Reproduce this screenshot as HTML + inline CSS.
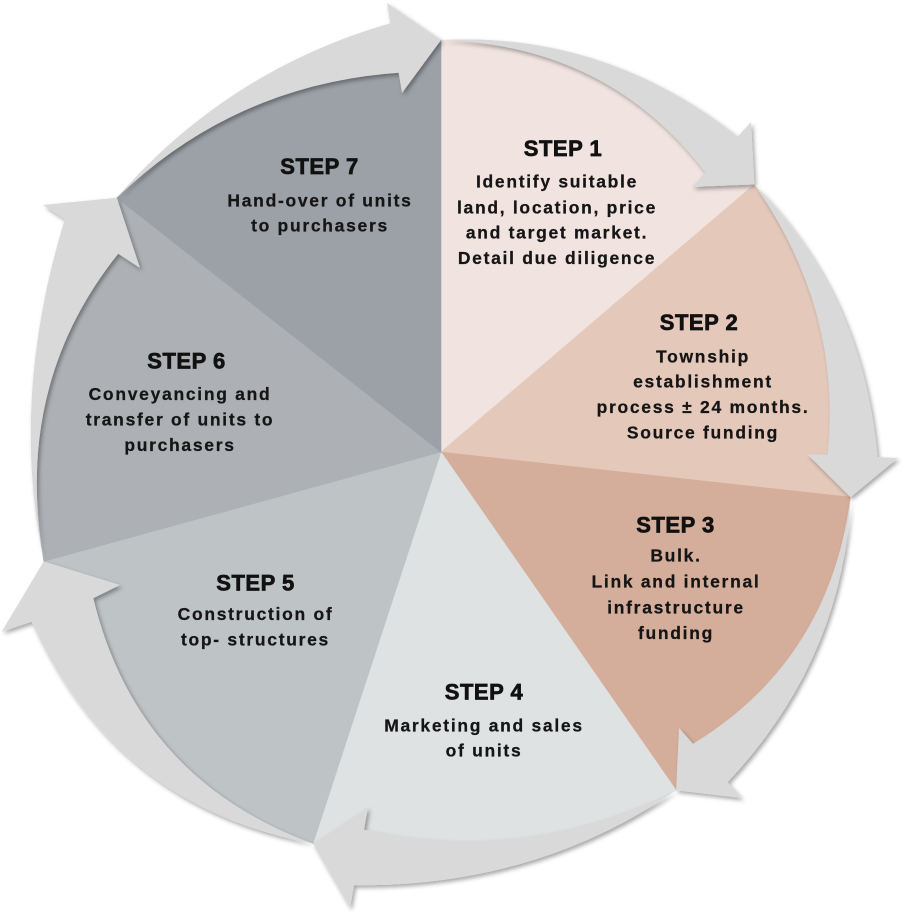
<!DOCTYPE html>
<html>
<head>
<meta charset="utf-8">
<style>
  html,body{margin:0;padding:0;background:#ffffff;}
  svg{display:block;}
  .h{font-family:"Liberation Sans",Arial,sans-serif;font-weight:bold;font-size:22px;letter-spacing:0.5px;fill:#111;stroke:#111;stroke-width:0.7px;}
  .b{font-family:"Liberation Sans",Arial,sans-serif;font-weight:bold;font-size:17.5px;letter-spacing:1.7px;fill:#151515;stroke:#151515;stroke-width:0.25px;}
</style>
</head>
<body>
<svg width="908" height="917" viewBox="0 0 908 917" xmlns="http://www.w3.org/2000/svg">
  <defs>
    <filter id="sh" x="-20%" y="-20%" width="140%" height="140%">
      <feDropShadow dx="2" dy="2.5" stdDeviation="2" flood-color="#000" flood-opacity="0.35"/>
    </filter>
  </defs>

  <!-- wedges -->
  <path d="M 441 452 L 441 40 Q 608.25 45.2 705.3 172.4 L 754.3 184.4 Z" fill="#f1e4e0" stroke="#f1e4e0" stroke-width="0.6"/>
  <path d="M 441 452 L 754.3 184.4 Q 842.9 310.75 827.5 454.9 L 850.5 497.2 Z" fill="#e4c9bb" stroke="#e4c9bb" stroke-width="0.6"/>
  <path d="M 441 452 L 850.5 497.2 Q 829.2 660.9 693.1 743.8 L 676.1 790.3 Z" fill="#d5ae9b" stroke="#d5ae9b" stroke-width="0.6"/>
  <path d="M 441 452 L 676.1 790.3 Q 521.75 865.6 364 829.7 L 313 843.6 Z" fill="#dfe2e3" stroke="#dfe2e3" stroke-width="0.6"/>
  <path d="M 441 452 L 313 843.6 Q 136.85 779.05 93.3 598.3 L 43.8 561.4 Z" fill="#bec3c6" stroke="#bec3c6" stroke-width="0.6"/>
  <path d="M 441 452 L 43.8 561.4 Q 12.8 385.6 118.2 253.8 L 116.8 197.8 Z" fill="#adb1b5" stroke="#adb1b5" stroke-width="0.6"/>
  <path d="M 441 452 L 116.8 197.8 Q 234.9 84.1 398.6 72.75 L 441 40 Z" fill="#9ba1a7" stroke="#9ba1a7" stroke-width="0.6"/>

  <!-- arrows -->
  <g fill="#d9d9d9" filter="url(#sh)">
    <path d="M 441 40 Q 608.25 45.2 705.3 172.4 L 692 187 L 754.3 184.4 L 751 122 L 737.7 136.6 Q 604.65 31.5 441 40 Z"/>
    <path d="M 754.3 184.4 Q 842.9 310.75 827.5 454.9 L 807 454 L 850.5 497.2 L 898 458 L 877.5 457.1 Q 862.9 293.25 754.3 184.4 Z"/>
    <path d="M 850.5 497.2 Q 829.2 660.9 693.1 743.8 L 679 728 L 676.1 790.3 L 741.7 798 L 727.6 782.3 Q 843.75 658.45 850.5 497.2 Z"/>
    <path d="M 676.1 790.3 Q 521.75 865.6 364 829.7 L 368 807 L 313 843.6 L 350 908 L 354 885.3 Q 536.95 886.8 676.1 790.3 Z"/>
    <path d="M 313 843.6 Q 136.85 779.05 93.3 598.3 L 120 585 L 43.8 561.4 L 1.7 631.7 L 31.7 621.7 Q 114.05 806.35 313 843.6 Z"/>
    <path d="M 43.8 561.4 Q 12.8 385.6 118.2 253.8 L 140 268 L 116.8 197.8 L 43 205 L 64.8 219.2 Q 9.7 398.7 43.8 561.4 Z"/>
    <path d="M 116.8 197.8 Q 234.9 84.1 398.6 72.75 L 402 93 L 441 40 L 387 3 L 390.4 23.25 Q 227.8 70.1 116.8 197.8 Z"/>
  </g>

  <!-- Step 1 -->
  <text class="h" x="563" y="156" text-anchor="middle">STEP 1</text>
  <text class="b" x="557" y="187.7" text-anchor="middle">Identify suitable</text>
  <text class="b" x="557" y="213.3" text-anchor="middle">land, location, price</text>
  <text class="b" x="557" y="238.5" text-anchor="middle">and target market.</text>
  <text class="b" x="557" y="263.8" text-anchor="middle">Detail due diligence</text>

  <!-- Step 2 -->
  <text class="h" x="699" y="330" text-anchor="middle">STEP 2</text>
  <text class="b" x="703" y="362.3" text-anchor="middle">Township</text>
  <text class="b" x="703" y="387.5" text-anchor="middle">establishment</text>
  <text class="b" x="703" y="413" text-anchor="middle">process ± 24 months.</text>
  <text class="b" x="703" y="438.3" text-anchor="middle">Source funding</text>

  <!-- Step 3 -->
  <text class="h" x="675.5" y="532.3" text-anchor="middle">STEP 3</text>
  <text class="b" x="676" y="561.7" text-anchor="middle">Bulk.</text>
  <text class="b" x="676" y="587.3" text-anchor="middle">Link and internal</text>
  <text class="b" x="676" y="613.3" text-anchor="middle">infrastructure</text>
  <text class="b" x="676" y="639" text-anchor="middle">funding</text>

  <!-- Step 4 -->
  <text class="h" x="484" y="699.5" text-anchor="middle">STEP 4</text>
  <text class="b" x="484" y="731.5" text-anchor="middle">Marketing and sales</text>
  <text class="b" x="484" y="756.7" text-anchor="middle">of units</text>

  <!-- Step 5 -->
  <text class="h" x="255.5" y="590.7" text-anchor="middle">STEP 5</text>
  <text class="b" x="255.5" y="620" text-anchor="middle">Construction of</text>
  <text class="b" x="255.5" y="645.7" text-anchor="middle">top- structures</text>

  <!-- Step 6 -->
  <text class="h" x="186.5" y="368.3" text-anchor="middle">STEP 6</text>
  <text class="b" x="180" y="400" text-anchor="middle">Conveyancing and</text>
  <text class="b" x="180" y="425.7" text-anchor="middle">transfer of units to</text>
  <text class="b" x="180" y="451" text-anchor="middle">purchasers</text>

  <!-- Step 7 -->
  <text class="h" x="319.5" y="174" text-anchor="middle">STEP 7</text>
  <text class="b" x="320" y="206.7" text-anchor="middle">Hand-over of units</text>
  <text class="b" x="320" y="231.7" text-anchor="middle">to purchasers</text>
</svg>
</body>
</html>
